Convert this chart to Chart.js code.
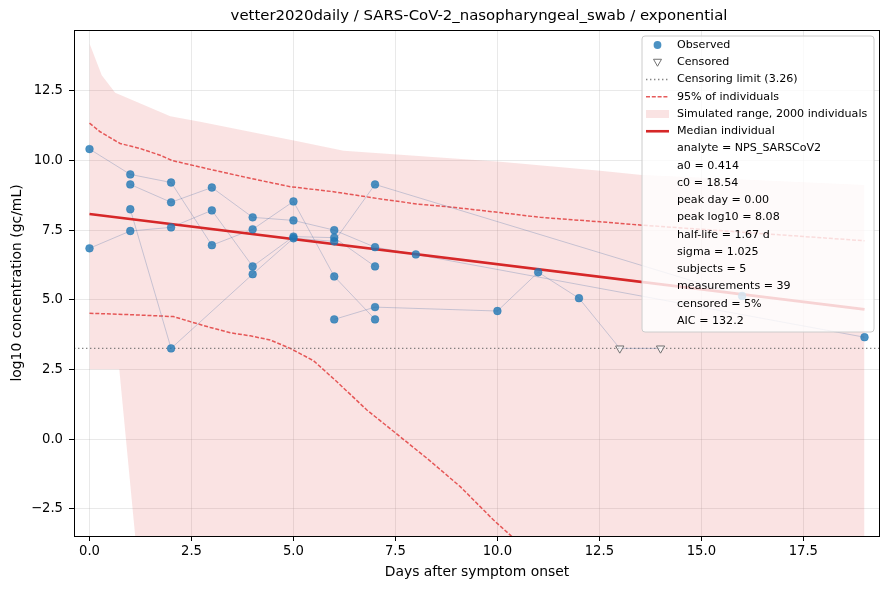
<!DOCTYPE html>
<html>
<head>
<meta charset="utf-8" />
<title>vetter2020daily / SARS-CoV-2_nasopharyngeal_swab / exponential</title>
<script src="https://cdn.jsdelivr.net/npm/chart.js"></script>
<style>
  html, body { margin: 0; background: #fff; }
  #wrap { width: 890px; height: 590px; }
</style>
</head>
<body>
<div id="wrap"><canvas id="chart" width="890" height="590"></canvas></div>
<script>
// --- data ---
const xTicks = [0, 2.5, 5, 7.5, 10, 12.5, 15, 17.5];
const yTicks = [-2.5, 0, 2.5, 5, 7.5, 10, 12.5];

// one array pair per subject
const s1Days = [0, 1, 2, 3, 4, 5, 6, 7];
const s1Vals = [10.41, 9.50, 9.21, 6.96, 7.53, 8.53, 5.84, 4.30];
const s2Days = [0, 1, 2, 3, 4, 5, 6, 7];
const s2Vals = [6.85, 7.47, 7.60, 8.21, 6.20, 7.27, 7.23, 6.20];
const s3Days = [1, 2, 3, 4, 5, 6, 7, 8, 19];
const s3Vals = [9.14, 8.50, 9.03, 7.96, 7.85, 7.50, 6.89, 6.63, 3.66];
const s4Days = [1, 2, 4, 5, 6, 7, 16];
const s4Vals = [8.25, 3.26, 5.92, 7.21, 7.10, 9.14, 5.14];
const s5Days = [6, 7, 10, 11, 12, 13, 14];
const s5Vals = [4.30, 4.74, 4.60, 5.99, 5.06, 3.26, 3.26];
const s5Cens = [false, false, false, false, false, true, true];

const lod = 3.26;

// model curves
const medianDays = [0, 19];
const medianVals = [8.08, 4.66];
const upperDays = [0, 0.26, 0.75, 1.24, 1.73, 2.02, 2.96, 3.94, 4.92, 5.98, 7.04, 8.02, 8.92, 10.07, 11.05, 12.52, 13.54, 19];
const upperVals = [11.34, 11.03, 10.61, 10.43, 10.19, 10.0, 9.68, 9.36, 9.06, 8.88, 8.64, 8.44, 8.32, 8.13, 7.96, 7.80, 7.68, 7.12];
const lowerDays = [0, 1.16, 2.06, 2.47, 2.96, 3.45, 3.94, 4.43, 4.92, 5.49, 6.06, 6.8, 7.49, 8.27, 9.09, 9.9, 10.31, 10.8];
const lowerVals = [4.52, 4.46, 4.40, 4.22, 4.01, 3.82, 3.71, 3.56, 3.26, 2.82, 2.07, 1.05, 0.24, -0.68, -1.70, -2.89, -3.43, -4.1];
const bandHighDays = [0, 0.3, 0.63, 1.98, 2.71, 5.16, 6.23, 10.07, 12.52, 13.54, 19];
const bandHighVals = [14.2, 13.06, 12.43, 11.59, 11.39, 10.67, 10.35, 9.95, 9.63, 9.48, 9.12];
const bandLowDays = [0, 0.73, 1.12, 1.5, 19];
const bandLowVals = [2.51, 2.51, -3.47, -9.5, -9.5];

const legendLabels = ['Observed', 'Censored', 'Censoring limit (3.26)', '95% of individuals',
                      'Simulated range, 2000 individuals', 'Median individual'];
const fitLabels = ['analyte = NPS_SARSCoV2', 'a0 = 0.414', 'c0 = 18.54', 'peak day = 0.00',
                   'peak log10 = 8.08', 'half-life = 1.67 d', 'sigma = 1.025', 'subjects = 5',
                   'measurements = 39', 'censored = 5%', 'AIC = 132.2'];

const BLUE = 'rgba(31,119,180,0.8)';
const RED = '#d62728';
const DASHRED = 'rgba(226,62,62,0.85)';
const BAND = 'rgba(214,39,40,0.13)';
const SUBJ = 'rgba(90,120,170,0.32)';
const FONT = '"DejaVu Sans", sans-serif';

function pts(xs, ys) { return xs.map((x, i) => ({ x: x, y: ys[i] })); }

const subjects = [[s1Days, s1Vals], [s2Days, s2Vals], [s3Days, s3Vals], [s4Days, s4Vals], [s5Days, s5Vals]];
const observed = [];
const censored = [];
subjects.forEach(([d, v], k) => {
    d.forEach((x, i) => {
        const isCens = k === 4 && s5Cens[i];
        (isCens ? censored : observed).push({ x: x, y: v[i] });
    });
});

const datasets = [];
datasets.push({ label: 'bandHigh', data: pts(bandHighDays, bandHighVals), showLine: true, borderWidth: 0,
    pointRadius: 0, backgroundColor: BAND, fill: '+1', order: 10 });
datasets.push({ label: 'bandLow', data: pts(bandLowDays, bandLowVals), showLine: true, borderWidth: 0,
    pointRadius: 0, fill: false, order: 10 });
datasets.push({ label: 'upper95', data: pts(upperDays, upperVals), showLine: true, borderColor: DASHRED,
    borderWidth: 1.5, borderDash: [4, 1.8], pointRadius: 0, fill: false, order: 8 });
datasets.push({ label: 'lower95', data: pts(lowerDays, lowerVals), showLine: true, borderColor: DASHRED,
    borderWidth: 1.5, borderDash: [4, 1.8], pointRadius: 0, fill: false, order: 8 });
datasets.push({ label: 'lod', data: [{ x: -0.38, y: lod }, { x: 19.38, y: lod }], showLine: true,
    borderColor: 'rgba(110,110,110,0.85)', borderWidth: 1.4, borderDash: [1.4, 2.6], pointRadius: 0, order: 6 });
subjects.forEach(([d, v], k) => {
    datasets.push({ label: 'subject' + (k + 1), data: pts(d, v), showLine: true, borderColor: SUBJ,
        borderWidth: 1, pointRadius: 0, fill: false, order: 5 });
});
datasets.push({ label: 'median', data: pts(medianDays, medianVals), showLine: true, borderColor: RED,
    borderWidth: 2.6, pointRadius: 0, order: 3 });
datasets.push({ label: 'observed', data: observed, showLine: false, pointRadius: 3.9,
    backgroundColor: BLUE, borderColor: BLUE, borderWidth: 0.5, order: 1 });
datasets.push({ label: 'censored', data: censored, showLine: false, pointStyle: 'triangle', rotation: 180,
    pointRadius: 4.8, backgroundColor: 'rgba(255,255,255,0.6)', borderColor: '#707070', borderWidth: 1, order: 0 });

const decor = {
    id: 'decor',
    afterDraw(chart) {
        const ctx = chart.ctx;
        const a = chart.chartArea;
        ctx.save();
        // frame
        ctx.strokeStyle = '#000';
        ctx.lineWidth = 1;
        ctx.strokeRect(a.left + 0.5, a.top + 0.5, a.right - a.left - 1, a.bottom - a.top);
        // titles
        ctx.fillStyle = '#000';
        ctx.textAlign = 'center';
        ctx.textBaseline = 'middle';
        ctx.font = '14.9px ' + FONT;
        ctx.fillText('vetter2020daily / SARS-CoV-2_nasopharyngeal_swab / exponential', 479, 16);
        ctx.font = '13.9px ' + FONT;
        ctx.fillText('Days after symptom onset', (a.left + a.right) / 2, 572);
        ctx.save();
        ctx.translate(17, (a.top + a.bottom) / 2);
        ctx.rotate(-Math.PI / 2);
        ctx.fillText('log10 concentration (gc/mL)', 0, 0);
        ctx.restore();

        // legend box
        const bx = 642, by = 36, bw = 232, bh = 296, r = 3;
        ctx.beginPath();
        ctx.moveTo(bx + r, by);
        ctx.arcTo(bx + bw, by, bx + bw, by + bh, r);
        ctx.arcTo(bx + bw, by + bh, bx, by + bh, r);
        ctx.arcTo(bx, by + bh, bx, by, r);
        ctx.arcTo(bx, by, bx + bw, by, r);
        ctx.closePath();
        ctx.fillStyle = 'rgba(255,255,255,0.8)';
        ctx.fill();
        ctx.strokeStyle = 'rgba(204,204,204,1)';
        ctx.stroke();

        const rowY = i => 45 + i * 17.25;
        const hx0 = 646, hx1 = 669, hc = 657.5;
        // handles
        ctx.fillStyle = BLUE;
        ctx.beginPath(); ctx.arc(hc, rowY(0), 3.9, 0, Math.PI * 2); ctx.fill();
        ctx.strokeStyle = '#707070'; ctx.lineWidth = 1;
        ctx.beginPath();
        ctx.moveTo(hc - 4, rowY(1) - 3); ctx.lineTo(hc + 4, rowY(1) - 3); ctx.lineTo(hc, rowY(1) + 4); ctx.closePath();
        ctx.stroke();
        ctx.strokeStyle = 'rgba(110,110,110,0.85)'; ctx.lineWidth = 1.4; ctx.setLineDash([1.4, 2.6]);
        ctx.beginPath(); ctx.moveTo(hx0, rowY(2)); ctx.lineTo(hx1, rowY(2)); ctx.stroke();
        ctx.strokeStyle = DASHRED; ctx.lineWidth = 1.5; ctx.setLineDash([4, 1.8]);
        ctx.beginPath(); ctx.moveTo(hx0, rowY(3)); ctx.lineTo(hx1, rowY(3)); ctx.stroke();
        ctx.setLineDash([]);
        ctx.fillStyle = BAND;
        ctx.fillRect(hx0, rowY(4) - 4, hx1 - hx0, 8);
        ctx.strokeStyle = RED; ctx.lineWidth = 2.6;
        ctx.beginPath(); ctx.moveTo(hx0, rowY(5)); ctx.lineTo(hx1, rowY(5)); ctx.stroke();

        ctx.fillStyle = '#000';
        ctx.textAlign = 'left';
        ctx.font = '11.1px ' + FONT;
        legendLabels.concat(fitLabels).forEach((t, i) => ctx.fillText(t, 677, rowY(i)));
        ctx.restore();
    }
};

const fmt = v => v.toFixed(1).replace('-', '\u2212');
const gridCfg = { color: 'rgba(176,176,176,0.35)', lineWidth: 0.8, tickColor: '#000', tickLength: 5, tickWidth: 1 };

new Chart(document.getElementById('chart'), {
    type: 'scatter',
    data: { datasets: datasets },
    plugins: [decor],
    options: {
        responsive: false,
        animation: false,
        devicePixelRatio: 1,
        layout: { padding: { top: 30, right: 10, left: 0, bottom: 0 } },
        plugins: { legend: { display: false }, tooltip: { enabled: false }, title: { display: false } },
        scales: {
            x: {
                type: 'linear', min: -0.38, max: 19.38,
                grid: gridCfg, border: { display: false },
                afterBuildTicks: s => { s.ticks = xTicks.map(v => ({ value: v })); },
                afterFit: s => { s.height = 54; },
                ticks: { callback: fmt, color: '#000', font: { family: FONT, size: 13.2 }, padding: 3, maxRotation: 0 }
            },
            y: {
                type: 'linear', min: -3.47, max: 14.68,
                grid: gridCfg, border: { display: false },
                afterBuildTicks: s => { s.ticks = yTicks.map(v => ({ value: v })); },
                afterFit: s => { s.width = 74; },
                ticks: { callback: fmt, color: '#000', font: { family: FONT, size: 13.2 }, padding: 6 }
            }
        }
    }
});
</script>
</body>
</html>
